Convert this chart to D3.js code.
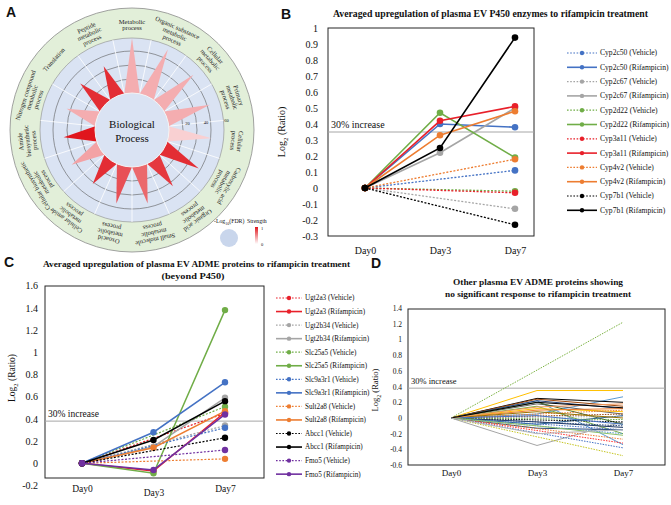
<!DOCTYPE html>
<html><head><meta charset="utf-8">
<script src="https://cdn.jsdelivr.net/npm/d3@7"></script>
<style>
body{margin:0;background:#fff}
svg{display:block}
text{font-family:"Liberation Serif","Times New Roman",serif;fill:#111}
</style>
</head><body>
<svg id="chart" width="671" height="505"></svg>
<script>
// ===== Panel A data =====
const goTerms = [
  "Metabolic|process",
  "Organic substance|metabolic|process",
  "Cellular|metabolic|process",
  "Primary|metabolic|process",
  "Cellular|process",
  "Carboxylic acid|metabolic|process",
  "Organic acid|metabolic|process",
  "Small molecule|metabolic|process",
  "Oxoacid|metabolic|process",
  "Cellular amide|metabolic|process",
  "Cellular biosynthetic|metabolic|process",
  "Amide|biosynthetic|process",
  "Nitrogen compound|metabolic|process",
  "Translation",
  "Peptide|metabolic|process"
];
const goLog10FDR = [59, 55, 49, 48, 46, 43, 35, 41, 41, 32, 35, 34, 34, 35, 35];
const goStrength = [0.35, 0.35, 0.35, 0.35, 0.2, 0.9, 0.85, 0.65, 0.75, 0.9, 0.4, 1.0, 0.35, 0.9, 0.9];
const radialGrid = [15, 30, 45];
const radialTickLabels = ["20", "40", "60"];

// ===== Panel B data =====
const days = ["Day0", "Day3", "Day7"];
const bNames = ["Cyp2c50 (Vehicle)","Cyp2c50 (Rifampicin)","Cyp2c67 (Vehicle)","Cyp2c67 (Rifampicin)",
  "Cyp2d22 (Vehicle)","Cyp2d22 (Rifampicin)","Cyp3a11 (Vehicle)","Cyp3a11 (Rifampicin)",
  "Cyp4v2 (Vehicle)","Cyp4v2 (Rifampicin)","Cyp7b1 (Vehicle)","Cyp7b1 (Rifampicin)"];
const bValues = [
  [0, null, 0.11], [0, 0.40, 0.38],
  [0, null, -0.13], [0, 0.22, 0.50],
  [0, null, -0.02], [0, 0.47, 0.19],
  [0, null, -0.03], [0, 0.42, 0.51],
  [0, null, 0.18], [0, 0.33, 0.48],
  [0, null, -0.23], [0, 0.25, 0.94]
];
const bTicks = ["1","0.9","0.8","0.7","0.6","0.5","0.4","0.3","0.2","0.1","0","-0.1","-0.2","-0.3"];
const bThreshold = 0.35;

// ===== Panel C data =====
const cNames = ["Ugt2a3 (Vehicle)","Ugt2a3 (Rifampicin)","Ugt2b34 (Vehicle)","Ugt2b34 (Rifampicin)",
  "Slc25a5 (Vehicle)","Slc25a5 (Rifampicin)","Slc9a3r1 (Vehicle)","Slc9a3r1 (Rifampicin)",
  "Sult2a8 (Vehicle)","Sult2a8 (Rifampicin)","Abcc1 (Vehicle)","Abcc1 (Rifampicin)",
  "Fmo5 (Vehicle)","Fmo5 (Rifampicin)"];
const cValues = [
  [0, null, 0.45], [0, -0.07, 0.46],
  [0, null, 0.34], [0, 0.15, 0.59],
  [0, null, 0.51], [0, -0.09, 1.38],
  [0, null, 0.32], [0, 0.28, 0.73],
  [0, null, 0.04], [0, 0.14, 0.47],
  [0, null, 0.23], [0, 0.21, 0.56],
  [0, null, 0.12], [0, -0.06, 0.44]
];
const cTicks = ["1.6","1.4","1.2","1","0.8","0.6","0.4","0.2","0","-0.2"];
const cThreshold = 0.38;

// ===== Panel D data =====
const dValues = [
  [0, null, 1.22], [0, 0.35, 0.35], [0, -0.35, -0.05], [0, null, -0.48],
  [0, 0.22, -0.34], [0, 0.05, 0.27], [0, 0.25, 0.20], [0, 0.24, 0.15],
  [0, 0.22, 0.12], [0, 0.18, 0.05], [0, 0.20, -0.08], [0, 0.15, -0.20],
  [0, 0.12, 0.08], [0, -0.13, -0.15], [0, -0.05, -0.12], [0, -0.08, 0.03],
  [0, null, -0.27], [0, null, -0.32], [0, null, -0.20], [0, null, -0.10],
  [0, null, -0.05], [0, null, 0.02], [0, null, 0.10], [0, null, -0.15],
  [0, null, 0.05], [0, null, -0.02], [0, 0.10, 0.12], [0, 0.08, 0.00],
  [0, 0.03, -0.08], [0, -0.10, -0.22], [0, 0.14, 0.18], [0, null, -0.38],
  [0, 0.20, 0.13], [0, -0.20, -0.15]
];
const dTicks = ["1.4","1.2","1","0.8","0.6","0.4","0.2","0","-0.2","-0.4","-0.6"];
const dThreshold = 0.38;

// ===== styles =====
const pairColors = ["#4472c4","#a5a5a5","#70ad47","#e8202a","#ed7d31","#000000"];
const cPairColors = ["#e8202a","#a5a5a5","#70ad47","#4472c4","#ed7d31","#000000","#7030a0"];
const dColors = ["#7cb342","#ffc000","#a5a5a5","#c5c520","#5b9bd5","#5b9bd5","#000000","#9e480e",
  "#264478","#636363","#43682b","#70ad47","#ffc000","#264478","#1f3864","#255e91",
  "#ed7d31","#ff3030","#5b9bd5","#264478","#000000","#a5a5a5","#ed7d31","#4472c4",
  "#9e480e","#70ad47","#ed7d31","#997300","#4472c4","#8cc168","#f1975a","#4472c4",
  "#000000","#b7b7b7"];

const svg = d3.select("#chart");
svg.append("rect").attr("width",671).attr("height",505).attr("fill","#fff");

// panel letters
[["A",6,17],["B",281,19],["C",4,267],["D",371,268]].forEach(([t,x,y])=>{
  svg.append("text").attr("x",x).attr("y",y).text(t)
    .style("font-family","'Liberation Sans',Arial,sans-serif").style("font-weight","bold").style("font-size","14px");
});

// ================= Panel A =================
(function(){
  const cx = 132, cy = 130, rOuter = 122, rDisc = 92, rHole = 37;
  const rScale = d3.scaleLinear().domain([0, 60]).range([rHole, 93]);
  const color = d3.scaleLinear().domain([0,1]).range(["#ffffff","#e0161d"]).interpolate(d3.interpolateRgb);
  const n = goTerms.length, step = 360 / n;
  const g = svg.append("g").attr("transform", `translate(${cx},${cy})`);
  const pt = (r, deg) => { const a = deg * Math.PI / 180; return [r * Math.sin(a), -r * Math.cos(a)]; };

  g.append("circle").attr("r", rOuter).attr("fill","#e2efd9").attr("stroke","#8c8c8c").attr("stroke-width",0.8);
  g.append("circle").attr("r", rDisc).attr("fill","#dae3f3").attr("stroke","#8c8c8c").attr("stroke-width",0.6);
  radialGrid.forEach(v => g.append("circle").attr("r", rScale(v)).attr("fill","none").attr("stroke","#5a5a5a").attr("stroke-width",0.6));
  d3.range(n).forEach(i => {
    const a = i * step - step/2;
    const p1 = pt(rHole, a), p2 = pt(rDisc, a);
    g.append("line").attr("x1",p1[0]).attr("y1",p1[1]).attr("x2",p2[0]).attr("y2",p2[1])
      .attr("stroke","#ffffff").attr("stroke-width",0.8);
  });
  goLog10FDR.forEach((v, i) => {
    const a = i * step;
    const b1 = pt(rHole, a - step/2), b2 = pt(rHole, a + step/2), ap = pt(rScale(v), a);
    g.append("path").attr("d", `M${b1}L${ap}L${b2}Z`).attr("fill", color(goStrength[i]));
  });
  g.append("circle").attr("r", rHole).attr("fill","#dae3f3").attr("stroke","#f4f4f4").attr("stroke-width",1);
  g.append("text").attr("text-anchor","middle").attr("y",-2).style("font-size","11px").text("Biological");
  g.append("text").attr("text-anchor","middle").attr("y",11.5).style("font-size","11px").text("Process");
  radialTickLabels.forEach((t, k) => {
    const p = pt(rScale([20,40,62][k]), 85);
    g.append("text").attr("x",p[0]).attr("y",p[1]).attr("text-anchor","middle").style("font-size","4.5px").text(t);
  });
  goTerms.forEach((t, i) => {
    const a = i * step;
    const lines = t.split("|");
    const lh = 6.8, rMid = 105;
    const gg = g.append("g").attr("transform", `rotate(${a}) translate(0,${-rMid})`);
    lines.forEach((ln, k) => {
      gg.append("text").attr("text-anchor","middle")
        .attr("y", (k - (lines.length - 1)/2) * lh + 2)
        .style("font-size","6.5px").style("fill","#222").text(ln);
    });
  });
  const lg = svg.append("g");
  const lt = lg.append("text").attr("x",214).attr("y",223).style("font-size","5.8px");
  lt.append("tspan").text("-Log");
  lt.append("tspan").attr("dy",1.5).style("font-size","4px").text("10");
  lt.append("tspan").attr("dy",-1.5).text("(FDR)");
  lg.append("circle").attr("cx",229).attr("cy",238).attr("r",9).attr("fill","#c9d6ec");
  lg.append("text").attr("x",247).attr("y",223).style("font-size","5.8px").text("Strength");
  const grad = svg.append("defs").append("linearGradient").attr("id","sg").attr("x1",0).attr("y1",0).attr("x2",0).attr("y2",1);
  grad.append("stop").attr("offset","0%").attr("stop-color",color(1));
  grad.append("stop").attr("offset","100%").attr("stop-color",color(0));
  lg.append("rect").attr("x",255).attr("y",227).attr("width",3).attr("height",17).attr("fill","url(#sg)");
  lg.append("text").attr("x",261).attr("y",230).style("font-size","4.5px").text("1");
  lg.append("text").attr("x",261).attr("y",246).style("font-size","4.5px").text("0");
})();

function linePanel(o){
  const x = d3.scalePoint().domain(days).range(o.xr);
  const y = d3.scaleLinear().domain([0, 1]).range([o.y0, o.y0 - o.unit]);
  const g = svg.append("g");
  g.append("rect").attr("x",o.frame[0]).attr("y",o.frame[1]).attr("width",o.frame[2]-o.frame[0]).attr("height",o.frame[3]-o.frame[1])
    .attr("fill","none").attr("stroke","#262626").attr("stroke-width",1);
  const ya = g.append("g").attr("transform",`translate(${o.frame[0]},0)`)
    .call(d3.axisLeft(y).tickValues(o.ticks.map(Number)).tickSize(0).tickPadding(o.tickPad)
      .tickFormat((d,i)=>o.ticks[i]));
  ya.select(".domain").remove();
  ya.selectAll("text").style("font-family","'Liberation Serif','Times New Roman',serif").style("font-size",o.tickFont).attr("fill","#111");
  const xa = g.append("g").attr("transform",`translate(0,${o.frame[3]})`)
    .call(d3.axisBottom(x).tickSize(0).tickPadding(o.xPad));
  xa.select(".domain").remove();
  xa.selectAll("text").style("font-family","'Liberation Serif','Times New Roman',serif").style("font-size",o.xFont).attr("fill","#111");
  if (o.xShift) xa.selectAll("text").attr("dy", (d)=> (o.xShift[d]||0) + 0.71 + "em");
  const ty = y(o.threshold);
  g.append("line").attr("x1",o.frame[0]).attr("x2",o.frame[2]).attr("y1",ty).attr("y2",ty).attr("stroke","#a6a6a6").attr("stroke-width",1);
  g.append("text").attr("x",o.frame[0]+3).attr("y",ty-4).style("font-size",o.thFont).text("30% increase");
  const yt = g.append("text").attr("transform",`translate(${o.ytitle[0]},${o.ytitle[1]}) rotate(-90)`).attr("text-anchor","middle").style("font-size",o.ytFont);
  yt.append("tspan").text("Log");
  yt.append("tspan").attr("dy",3).style("font-size","0.7em").text("2");
  yt.append("tspan").attr("dy",-3).text(" (Ratio)");
  o.title.forEach((t,k)=>{
    g.append("text").attr("x",t.cx).attr("y",t.y).attr("text-anchor","middle").style("font-weight","bold").style("font-size",o.titleFont)
      .attr("textLength",t.w).attr("lengthAdjust","spacingAndGlyphs").text(t.s);
  });
  const line = d3.line().x(d=>x(d.day)).y(d=>y(d.v));
  o.values.forEach((vals,i)=>{
    const pts = vals.map((v,j)=>({day:days[j], v})).filter(d=>d.v!==null);
    const col = o.color(i), dashed = o.dashed(i);
    g.append("path").attr("d", line(pts)).attr("fill","none").attr("stroke",col)
      .attr("stroke-width", dashed ? o.dw : o.sw).attr("stroke-dasharray", dashed ? o.dash : null);
    if (o.marker) pts.forEach(d=> g.append("circle").attr("cx",x(d.day)).attr("cy",y(d.v)).attr("r",o.marker).attr("fill",col));
  });
  if (o.names){
    o.names.forEach((nm,i)=>{
      const ly = o.leg.y + i*o.leg.step, col = o.color(i), dashed = o.dashed(i);
      g.append("line").attr("x1",o.leg.x1).attr("x2",o.leg.x2).attr("y1",ly).attr("y2",ly).attr("stroke",col)
        .attr("stroke-width", dashed ? 1.2 : 1.6).attr("stroke-dasharray", dashed ? "1.6,1.6" : null);
      g.append("circle").attr("cx",(o.leg.x1+o.leg.x2)/2).attr("cy",ly).attr("r",2.2).attr("fill",col);
      g.append("text").attr("x",o.leg.tx).attr("y",ly+2.4).style("font-size",o.leg.font).text(nm);
    });
  }
}

linePanel({
  xr:[365,515], y0:188, unit:160, frame:[328,28,534,236], ticks:bTicks, tickPad:10, tickFont:"10px",
  xPad:11, xFont:"10px", threshold:bThreshold, thFont:"10px", ytitle:[285,132], ytFont:"10px",
  title:[{s:"Averaged upregulation of plasma EV P450 enzymes to rifampicin treatment", cx:490.5, y:17, w:315}], titleFont:"9.3px",
  values:bValues, color:i=>pairColors[Math.floor(i/2)], dashed:i=>i%2===0, sw:1.6, dw:1.3, dash:"2,1.6", marker:3.3,
  names:bNames, leg:{x1:567,x2:597,tx:600,y:53,step:14.3,font:"7.6px"}
});

linePanel({
  xr:[82,225], y0:463.3, unit:111, frame:[45,286,264,478], ticks:cTicks, tickPad:7, tickFont:"10px",
  xPad:7, xFont:"9.5px", xShift:{Day3:0.45}, threshold:cThreshold, thFont:"9.5px", ytitle:[15,378], ytFont:"9.5px",
  title:[{s:"Averaged upregulation of plasma EV ADME proteins to rifampicin treatment", cx:196.5, y:267, w:307},
         {s:"(beyond P450)", cx:193, y:279, w:63}], titleFont:"9px",
  values:cValues, color:i=>cPairColors[Math.floor(i/2)], dashed:i=>i%2===0, sw:1.5, dw:1.2, dash:"2,1.6", marker:3.2,
  names:cNames, leg:{x1:276,x2:302,tx:305,y:298,step:13.55,font:"7.2px"}
});

linePanel({
  xr:[451,623], y0:418, unit:78.5, frame:[408,309,665,465], ticks:dTicks, tickPad:6, tickFont:"7.5px",
  xPad:5, xFont:"9px", threshold:dThreshold, thFont:"8.5px", ytitle:[378,390], ytFont:"8.5px",
  title:[{s:"Other plasma EV ADME proteins showing", cx:538, y:285, w:170},
         {s:"no significant response to rifampicin treatment", cx:538, y:297, w:186}], titleFont:"9px",
  values:dValues, color:i=>dColors[i], dashed:i=>dValues[i][1]===null, sw:1, dw:1, dash:"1.5,1.2", marker:0
});
</script>
</body></html>
